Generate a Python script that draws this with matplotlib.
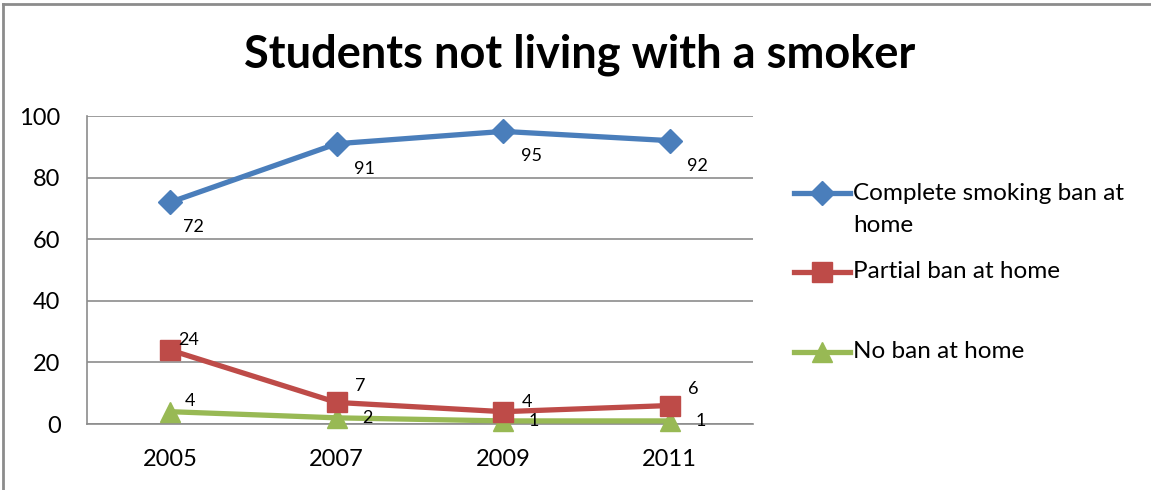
import matplotlib
matplotlib.use("Agg")
import matplotlib.pyplot as plt
from matplotlib.lines import Line2D

plt.rcParams['font.family'] = ['Lato', 'DejaVu Sans']

title = "Students not living with a smoker"
years = ["2005", "2007", "2009", "2011"]
complete_ban = [72, 91, 95, 92]
partial_ban = [24, 7, 4, 6]
no_ban = [4, 2, 1, 1]
series_names = ["Complete smoking ban at\nhome", "Partial ban at home", "No ban at home"]
yticks = [0, 20, 40, 60, 80, 100]

colors = ["#4A7EBB", "#BE4B48", "#98B954"]
markers = ["D", "s", "^"]
msizes = [12, 14, 15]
# label offsets in points (dx, dy) per series
label_offsets = [[(17, -18), (20, -18), (20, -18), (20, -18)],
                 [(13, 7), (17, 12), (17, 7), (17, 12)],
                 [(14, 8), (22, 0), (22, 0), (22, 0)]]

W, H = 1151, 490
fig = plt.figure(figsize=(W / 100, H / 100), dpi=100)
ax = fig.add_axes([87/W, 1-424/H, (753-87)/W, (424-116)/H])

x = list(range(len(years)))
handles = []
for i, vals in enumerate([complete_ban, partial_ban, no_ban]):
    h, = ax.plot(x, vals, color=colors[i], lw=3.8, marker=markers[i], ms=msizes[i],
                 mec=colors[i], mfc=colors[i], label=series_names[i], zorder=3 + (2 - i) * 0.1,
                 clip_on=False)
    handles.append(h)
    for j, v in enumerate(vals):
        dx, dy = label_offsets[i][j]
        ax.annotate(str(v), (x[j], v), xytext=(dx, dy), textcoords="offset points",
                    ha="center", va="center", fontsize=13, color="black", zorder=5)

ax.set_xlim(-0.5, len(years) - 0.5)
ax.set_ylim(0, 100)
ax.set_yticks(yticks)
ax.set_xticks(x)
ax.set_xticklabels(years)
ax.tick_params(axis="both", labelsize=17, length=0, colors="black")
ax.tick_params(axis="y", pad=19)
ax.tick_params(axis="x", pad=18)
ax.grid(axis="y", color="#8c8c8c", lw=1.2)
ax.set_axisbelow(True)
for s in ["top", "right"]:
    ax.spines[s].set_visible(False)
ax.spines["left"].set_color("#8c8c8c")
ax.spines["bottom"].set_color("#8c8c8c")
ax.spines["left"].set_linewidth(1.2)
ax.spines["bottom"].set_linewidth(1.2)

fig.text(580/W, 1-55/H, title, ha="center", va="center", fontsize=32.5, fontweight="bold")

# legend, placed like the original (handle aligned with first text line)
legend_rows = [193, 272, 352]
for i, h in enumerate(handles):
    yy = 1 - legend_rows[i] / H
    fig.add_artist(Line2D([794/W, 850/W], [yy, yy], color=colors[i], lw=3.8))
    fig.add_artist(Line2D([822/W], [yy], color=colors[i], marker=markers[i],
                          ms=msizes[i], mec=colors[i], mfc=colors[i]))
    lines = h.get_label().split("\n")
    for k, txt in enumerate(lines):
        fig.text(853/W, yy - k * 32 / H, txt, ha="left", va="center", fontsize=17.5)

# outer chart border (top and left visible)
fig.add_artist(Line2D([3/W, 1], [1-4/H, 1-4/H], color="#8c8c8c", lw=2))
fig.add_artist(Line2D([3/W, 3/W], [0, 1-4/H], color="#8c8c8c", lw=2))

fig.savefig("out.png", dpi=100)
